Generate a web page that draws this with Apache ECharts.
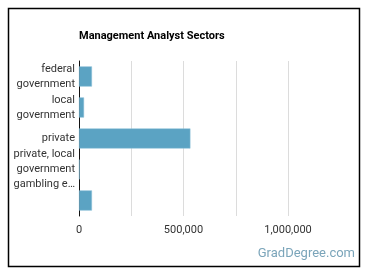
<!DOCTYPE html>
<html>
<head>
<meta charset="utf-8">
<script src="https://cdn.jsdelivr.net/npm/echarts@6/dist/echarts.min.js"></script>
<style>
  html, body { margin: 0; padding: 0; background: #fff; }
  #chart { width: 370px; height: 278px; }
</style>
</head>
<body>
<div id="chart"></div>
<script>
// sector labels as shown on the chart (last one has no label)
const sectors = [
  'federal\ngovernment',
  'local\ngovernment',
  'private',
  'private, local\ngovernment\ngambling e…',
  ''
]
// number employed
const employed = [62000, 24000, 533000, 3000, 62000]
const xTicks = { min: 0, max: 1000000, step: 250000, labelEvery: 500000 }

const chart = echarts.init(document.getElementById('chart'))
chart.setOption({
  animation: false,
  textStyle: { fontFamily: 'Roboto' },
  title: {
    text: 'Management Analyst Sectors',
    left: 79,
    top: 31,
    padding: 0,
    textStyle: { fontSize: 11, fontWeight: 'bold', color: '#000' }
  },
  graphic: [
    {
      type: 'rect',
      shape: { x: 8.5, y: 8.5, width: 351, height: 258 },
      style: { fill: 'none', stroke: '#000', lineWidth: 1.5 },
      silent: true
    },
    {
      type: 'text',
      right: 15,
      top: 247,
      style: { text: 'GradDegree.com', fontSize: 13, fill: '#7ba5ba', fontFamily: 'Roboto' }
    }
  ],
  grid: { left: 79, right: 82, top: 61, bottom: 62, containLabel: false },
  xAxis: {
    type: 'value',
    min: xTicks.min,
    max: xTicks.max,
    interval: xTicks.step,
    axisLine: { show: false },
    axisTick: { show: false },
    splitLine: { lineStyle: { color: '#dcdcdc', width: 1 } },
    axisLabel: {
      color: '#333',
      fontSize: 11,
      margin: 9,
      formatter: v => (v % xTicks.labelEvery === 0 ? v.toLocaleString('en-US') : '')
    }
  },
  yAxis: {
    type: 'category',
    inverse: true,
    data: sectors,
    axisLine: { show: true, lineStyle: { color: '#111', width: 1 } },
    axisTick: { show: false },
    axisLabel: { color: '#333', fontSize: 11, lineHeight: 15, margin: 4, align: 'right' }
  },
  series: [{
    type: 'bar',
    data: employed,
    barCategoryGap: '35%',
    itemStyle: { color: '#5ba3c3', borderColor: '#8cc0d8', borderWidth: 0.5 }
  }]
})
</script>
</body>
</html>
